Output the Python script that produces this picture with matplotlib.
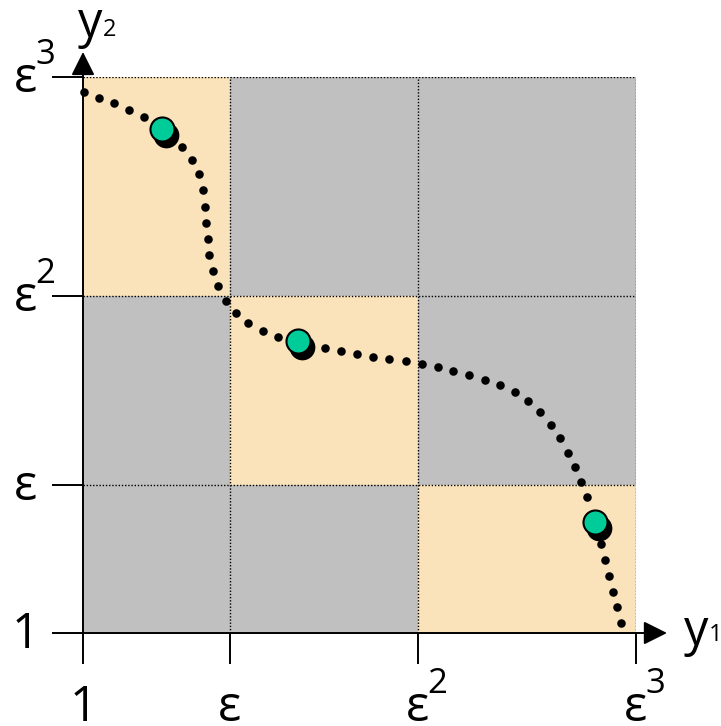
import numpy as np
import matplotlib
matplotlib.use("Agg")
import matplotlib.pyplot as plt
from matplotlib.colors import ListedColormap
from matplotlib.transforms import offset_copy, blended_transform_factory

plt.rcParams['font.family'] = ['Open Sans', 'DejaVu Sans']

# grid boundaries on each axis (1, eps, eps^2, eps^3)
x_ticks = [0, 147, 335, 553]
y_ticks = [0, 148, 337, 556]
tick_base = ['1', 'ε', 'ε', 'ε']
tick_exp = ['', '', '2', '3']

# dotted front
curve_y1 = [1, 16, 31, 46, 61, 99, 109, 116, 120, 122, 123, 125, 126, 130, 135,
            143, 153, 165, 180, 195, 242, 258, 274, 290, 306, 323, 339, 355,
            370, 386, 402, 417, 432, 445, 457, 468, 477, 485, 492, 498, 504,
            518, 522, 526, 530, 534, 538]
curve_y2 = [541, 535, 530, 523, 516, 486, 473, 459, 443, 426, 410, 394, 378, 362,
            347, 332, 320, 310, 302, 296, 285, 282, 279, 276, 274, 272, 269,
            266, 262, 258, 253, 248, 241, 232, 221, 208, 195, 180, 166, 151,
            136, 89, 73, 57, 41, 26, 10]

# highlighted points
pts_y1 = [79, 215, 512]
pts_y2 = [504, 292, 111]

gray = '#c0c0c0'
orange = '#fae3ba'
green = '#00cc99'

fig = plt.figure(figsize=(7.21, 7.26), dpi=100)
ax = fig.add_axes([83 / 721, 93 / 726, 553 / 721, 556 / 726])

# cells on the anti-diagonal are highlighted
n = len(x_ticks) - 1
cells = np.array([[1 if i + j == n - 1 else 0 for i in range(n)] for j in range(n)])
ax.pcolormesh(x_ticks, y_ticks, cells, cmap=ListedColormap([gray, orange]),
              shading='flat', zorder=0)

for xv in x_ticks[1:]:
    ax.axvline(xv, color='black', lw=1.0, ls=(0, (1, 1.3)), zorder=1)
for yv in y_ticks[1:]:
    ax.axhline(yv, color='black', lw=1.0, ls=(0, (1, 1.3)), zorder=1)

ax.scatter(curve_y1, curve_y2, s=38, color='black', linewidths=0, zorder=3,
           clip_on=False)

shadow = offset_copy(ax.transData, fig=fig, x=3, y=-4, units='points')
ax.scatter(pts_y1, pts_y2, s=300, color='black', linewidths=1.2,
           edgecolors='black', transform=shadow, zorder=4)
ax.scatter(pts_y1, pts_y2, s=300, color=green, linewidths=1.5,
           edgecolors='black', zorder=5)

ax.set_xlim(x_ticks[0], x_ticks[-1])
ax.set_ylim(y_ticks[0], y_ticks[-1])
ax.set_xticks(x_ticks)
ax.set_yticks(y_ticks)
ax.set_xticklabels([])
ax.set_yticklabels([])
ax.tick_params(direction='out', length=22, width=1.4, color='black')
for side in ['top', 'right']:
    ax.spines[side].set_visible(False)
for side in ['left', 'bottom']:
    ax.spines[side].set_linewidth(1.4)

# axis arrows
arrow = dict(arrowstyle='-|>,head_length=0.4,head_width=0.2', mutation_scale=36,
             lw=1.4, color='black', shrinkA=0, shrinkB=0)
ax.annotate('', xy=(1.056, 0), xytext=(1, 0), xycoords='axes fraction',
            arrowprops=arrow, annotation_clip=False)
ax.annotate('', xy=(0, 1.045), xytext=(0, 1), xycoords='axes fraction',
            arrowprops=arrow, annotation_clip=False)

# tick labels: base glyph plus a raised exponent
fs = 35
fs_exp = 25
tx = blended_transform_factory(ax.transData, ax.transAxes)
ty = blended_transform_factory(ax.transAxes, ax.transData)


def put_label(x, y, trans, base, exp):
    ax.annotate(base, xy=(x, y), xycoords=trans, ha='center', va='baseline',
                fontsize=fs, annotation_clip=False)
    if exp:
        ax.annotate(exp, xy=(x, y), xycoords=trans, xytext=(6.5, 20),
                    textcoords='offset points', ha='left', va='baseline',
                    fontsize=fs_exp, annotation_clip=False)


for xv, b, e in zip(x_ticks, tick_base, tick_exp):
    put_label(xv, -88 / 556, tx, b, e)
for yv, b, e in zip(y_ticks, tick_base, tick_exp):
    put_label(-57 / 553, yv - 15, ty, b, e)

# axis names
ax.text(601 / 553, -12 / 556, 'y', fontsize=fs, ha='left', va='baseline',
        transform=ax.transAxes)
ax.text(626 / 553, -8 / 556, '1', fontsize=17, ha='left', va='baseline',
        transform=ax.transAxes)
ax.text(-5 / 553, 596 / 556, 'y', fontsize=fs, ha='left', va='baseline',
        transform=ax.transAxes)
ax.text(20 / 553, 597 / 556, '2', fontsize=17, ha='left', va='baseline',
        transform=ax.transAxes)

fig.savefig('out.png', dpi=100)
